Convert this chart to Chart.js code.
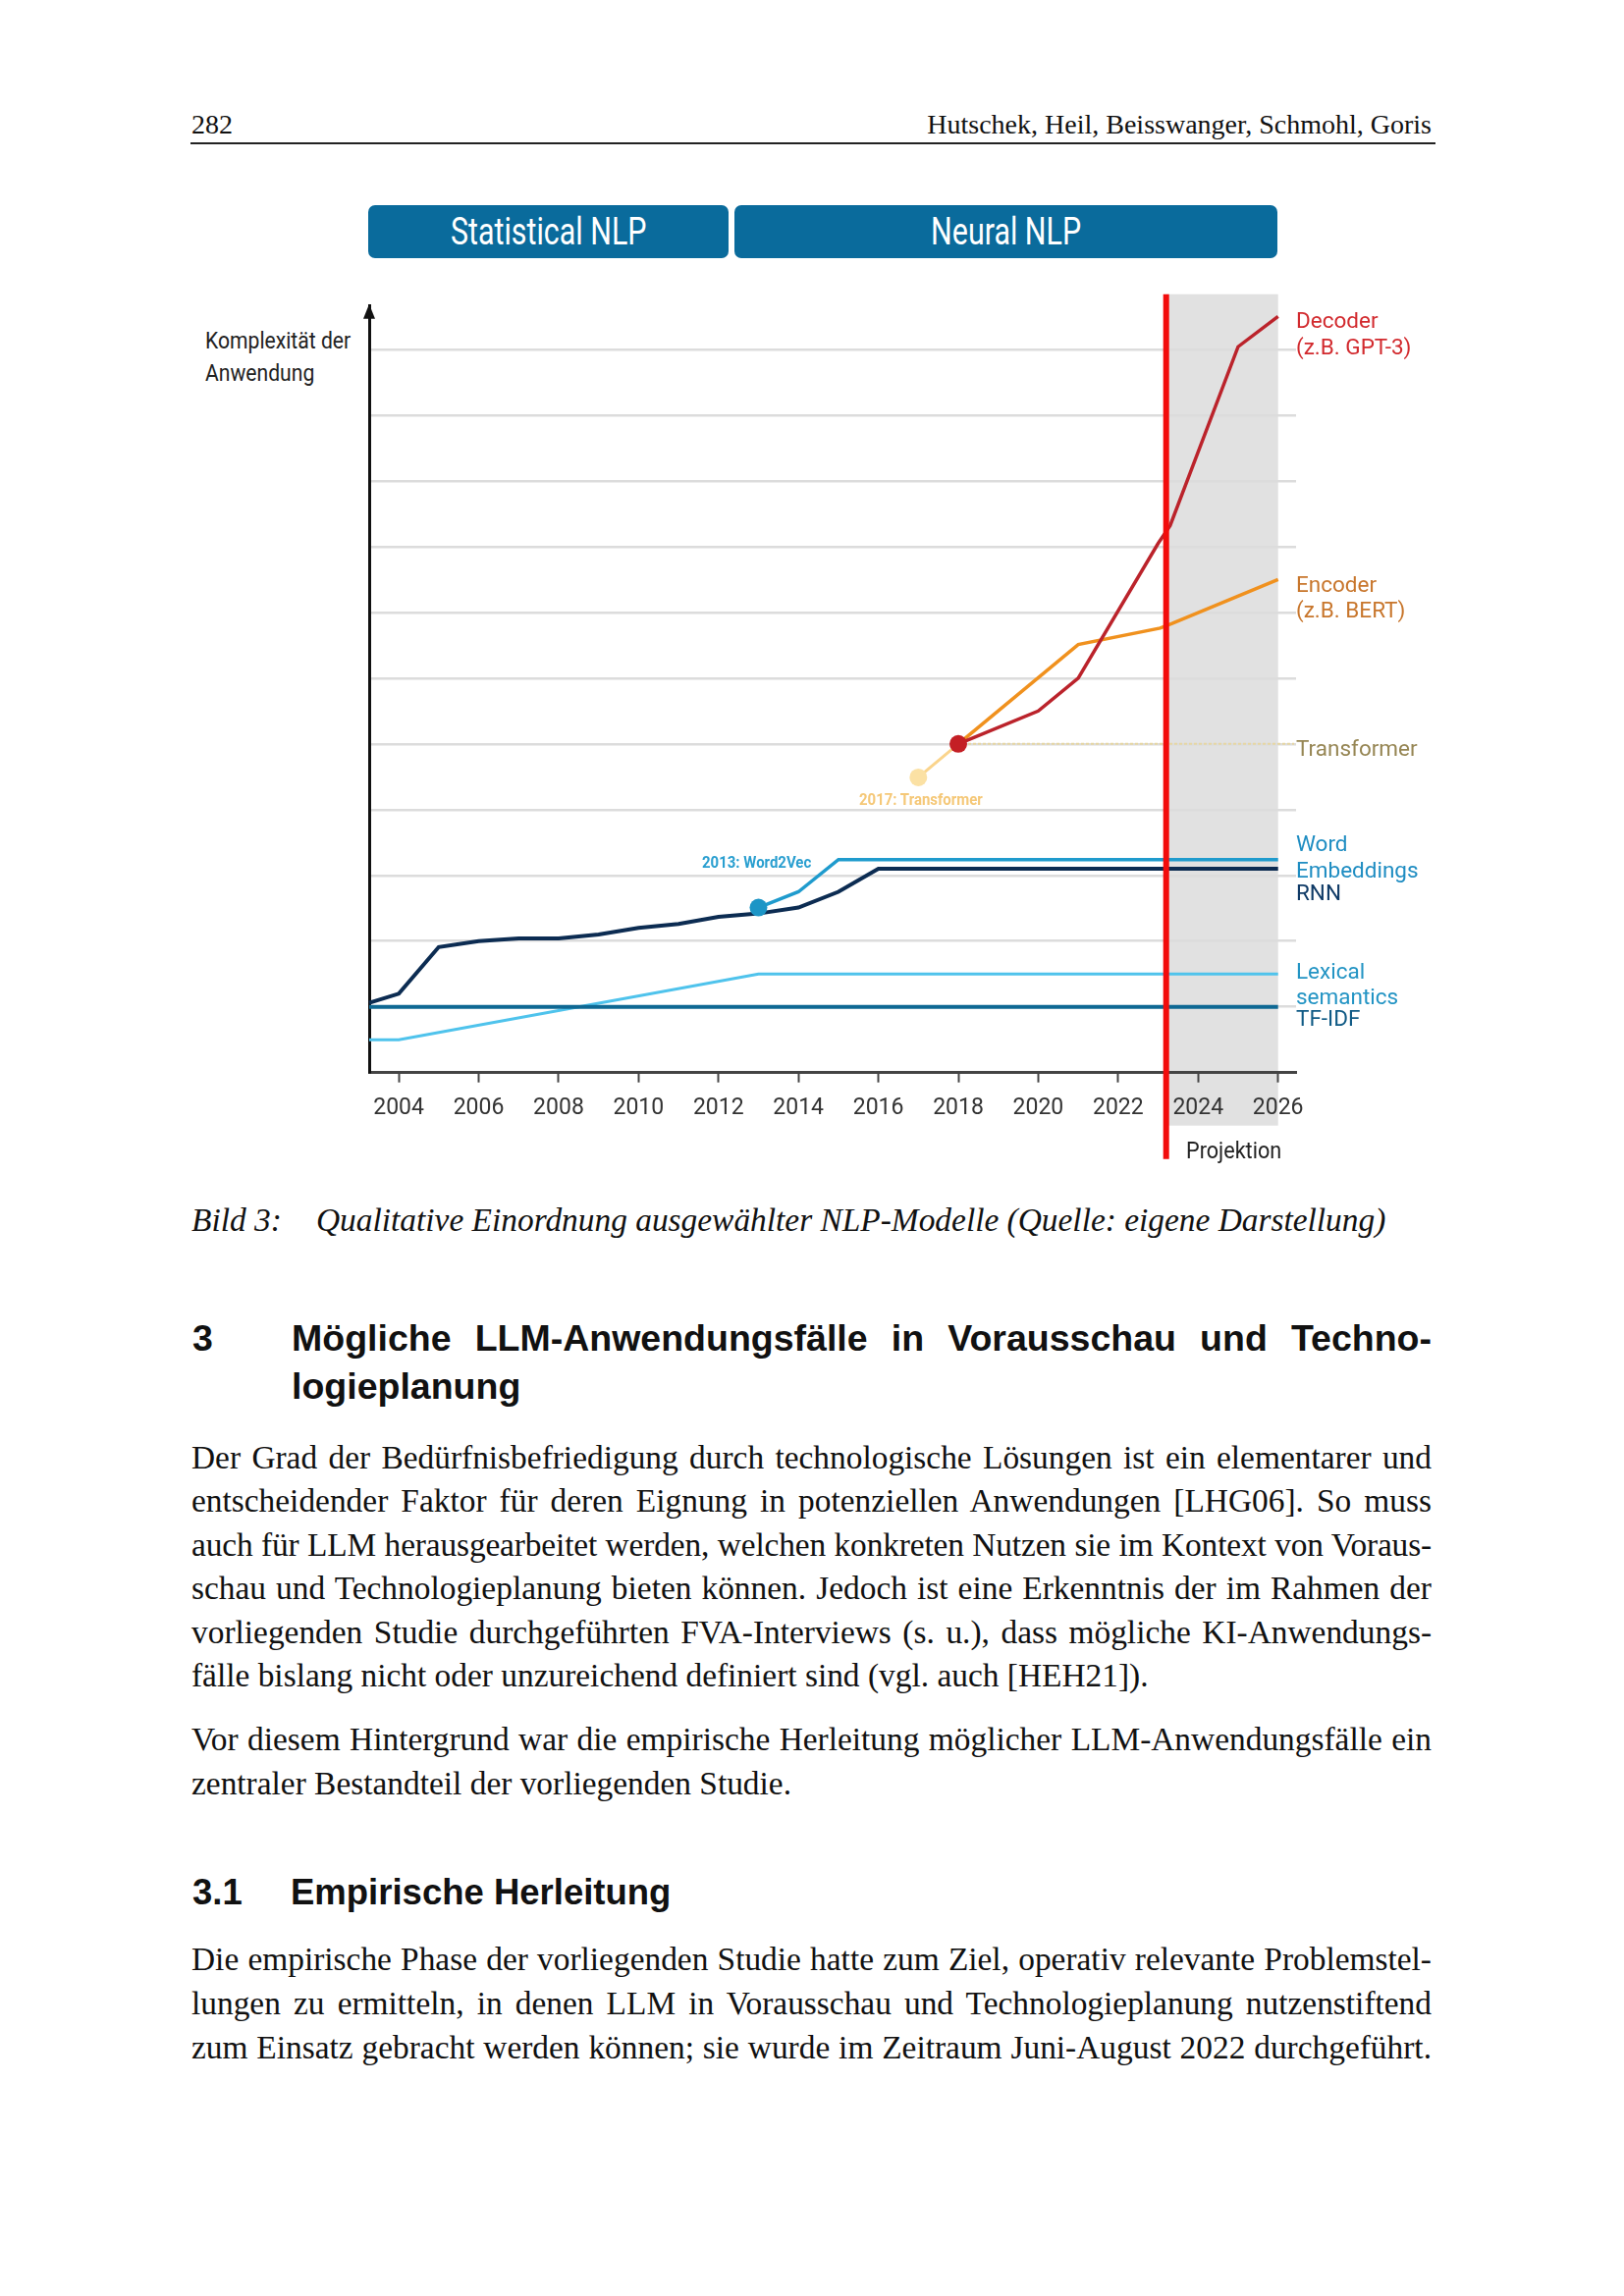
<!DOCTYPE html>
<html lang="de">
<head>
<meta charset="utf-8">
<title>Bild 3 – Qualitative Einordnung ausgewählter NLP-Modelle</title>
<script src="https://cdn.jsdelivr.net/npm/chart.js@4.4.1/dist/chart.umd.min.js"></script>
<style>
  html, body { margin: 0; padding: 0; background: #fff; }
  #page { position: relative; width: 1654px; height: 2339px; overflow: hidden; background: #fff; }
  .t { position: absolute; white-space: nowrap; line-height: 1; transform: translateY(-50%); }
  .serif { font-family: "Liberation Serif", "Times New Roman", serif; color: #111; }
  .sans { font-family: "Liberation Sans", Arial, sans-serif; color: #111; }
  .narrow { font-family: Roboto, sans-serif; transform-origin: left center; }
  .lbl { font-family: Roboto, sans-serif; font-size: 22.5px; }
  .body { font-size: 33.4px; }
  .j { text-align: justify; text-align-last: justify; }
  .tight { letter-spacing: -0.14px; }
  .banner { position: absolute; top: 209px; height: 54px; background: #0a6b9c; border-radius: 7px;
            display: flex; align-items: center; justify-content: center; }
  .banner span { color: #fff; font-family: Roboto, sans-serif; font-size: 38px; display: inline-block;
                 transform: scaleX(0.8); white-space: nowrap; }
  #chartBox { position: absolute; left: 190px; top: 290px; width: 1300px; height: 910px; }
</style>
</head>
<body>
<div id="page">
  <!-- Kopfzeile -->
  <div class="t serif" style="left:195px; top:127px; font-size:28px;">282</div>
  <div class="t serif" style="right:196px; top:127px; font-size:28px;">Hutschek, Heil, Beisswanger, Schmohl, Goris</div>
  <div style="position:absolute; left:194px; top:145px; width:1268px; height:2px; background:#222;"></div>

  <!-- Grafik -->
  <div class="banner" style="left:375px; width:367px;"><span>Statistical NLP</span></div>
  <div class="banner" style="left:748px; width:553px;"><span>Neural NLP</span></div>

  <div class="t narrow" style="left:209px; top:347px; font-size:24px; color:#222; transform:translateY(-50%) scaleX(0.88);">Komplexität der</div>
  <div class="t narrow" style="left:209px; top:380px; font-size:24px; color:#222; transform:translateY(-50%) scaleX(0.88);">Anwendung</div>

  <div id="chartBox"><canvas id="nlpChart"></canvas></div>

  <div class="t narrow" style="left:715px; top:878px; font-size:17px; font-weight:bold; color:#2a9fd0; transform:translateY(-50%) scaleX(0.88);">2013: Word2Vec</div>
  <div class="t narrow" style="left:875px; top:814px; font-size:17px; font-weight:bold; color:#f5c878; transform:translateY(-50%) scaleX(0.88);">2017: Transformer</div>

  <div class="t lbl" style="left:1320px; top:326px; color:#d22a2e;">Decoder</div>
  <div class="t lbl" style="left:1320px; top:353px; color:#d22a2e;">(z.B. GPT-3)</div>
  <div class="t lbl" style="left:1320px; top:595px; color:#c8762c;">Encoder</div>
  <div class="t lbl" style="left:1320px; top:621px; color:#c8762c;">(z.B. BERT)</div>
  <div class="t lbl" style="left:1320px; top:762px; color:#968654;">Transformer</div>
  <div class="t lbl" style="left:1320px; top:859px; color:#1f8dc2;">Word</div>
  <div class="t lbl" style="left:1320px; top:886px; color:#1f8dc2;">Embeddings</div>
  <div class="t lbl" style="left:1320px; top:909px; color:#0f3a66;">RNN</div>
  <div class="t lbl" style="left:1320px; top:989px; color:#2394c4;">Lexical</div>
  <div class="t lbl" style="left:1320px; top:1015px; color:#2394c4;">semantics</div>
  <div class="t lbl" style="left:1320px; top:1037px; color:#0f5a85;">TF-IDF</div>

  <div class="t narrow" style="left:1208px; top:1172px; font-size:24px; color:#222; transform:translateY(-50%) scaleX(0.9);">Projektion</div>

  <!-- Bildunterschrift -->
  <div class="t serif body" style="left:195px; top:1243px; font-style:italic;">Bild 3:</div>
  <div class="t serif body" style="left:322px; top:1243px; font-style:italic;">Qualitative Einordnung ausgewählter NLP-Modelle (Quelle: eigene Darstellung)</div>

  <!-- Abschnitt 3 -->
  <div class="t sans" style="left:196px; top:1364px; font-size:37.5px; font-weight:bold;">3</div>
  <div class="t sans j" style="left:297px; width:1161px; top:1364px; font-size:37.5px; font-weight:bold;">Mögliche LLM-Anwendungsfälle in Vorausschau und Techno-</div>
  <div class="t sans" style="left:297px; top:1413px; font-size:37.5px; font-weight:bold;">logieplanung</div>

  <div class="t serif body j" style="left:195px; width:1263px; top:1485px;">Der Grad der Bedürfnisbefriedigung durch technologische Lösungen ist ein elementarer und</div>
  <div class="t serif body j" style="left:195px; width:1263px; top:1529px;">entscheidender Faktor für deren Eignung in potenziellen Anwendungen [LHG06]. So muss</div>
  <div class="t serif body j tight" style="left:195px; width:1263px; top:1574px;">auch für LLM herausgearbeitet werden, welchen konkreten Nutzen sie im Kontext von Voraus-</div>
  <div class="t serif body j" style="left:195px; width:1263px; top:1618px;">schau und Technologieplanung bieten können. Jedoch ist eine Erkenntnis der im Rahmen der</div>
  <div class="t serif body j" style="left:195px; width:1263px; top:1663px;">vorliegenden Studie durchgeführten FVA-Interviews (s. u.), dass mögliche KI-Anwendungs-</div>
  <div class="t serif body" style="left:195px; top:1707px;">fälle bislang nicht oder unzureichend definiert sind (vgl. auch [HEH21]).</div>

  <div class="t serif body j" style="left:195px; width:1263px; top:1772px;">Vor diesem Hintergrund war die empirische Herleitung möglicher LLM-Anwendungsfälle ein</div>
  <div class="t serif body" style="left:195px; top:1817px;">zentraler Bestandteil der vorliegenden Studie.</div>

  <div class="t sans" style="left:196px; top:1928px; font-size:36.5px; font-weight:bold;">3.1</div>
  <div class="t sans" style="left:296px; top:1928px; font-size:36.5px; font-weight:bold;">Empirische Herleitung</div>

  <div class="t serif body j" style="left:195px; width:1263px; top:1996px;">Die empirische Phase der vorliegenden Studie hatte zum Ziel, operativ relevante Problemstel-</div>
  <div class="t serif body j" style="left:195px; width:1263px; top:2041px;">lungen zu ermitteln, in denen LLM in Vorausschau und Technologieplanung nutzenstiftend</div>
  <div class="t serif body j" style="left:195px; width:1263px; top:2086px;">zum Einsatz gebracht werden können; sie wurde im Zeitraum Juni-August 2022 durchgeführt.</div>
</div>

<script>
// Achsen
const tickYears = [2004, 2006, 2008, 2010, 2012, 2014, 2016, 2018, 2020, 2022, 2024, 2026];
const gridValues = [1, 2, 3, 4, 5, 6, 7, 8, 9, 10, 11];
const axisStartYear = 2003.26;
const axisEndYear = 2026.45;
const axisTopValue = 11.66;
const projectionStart = 2023.2;
const projectionEnd = 2026.0;

// Reihen (Jahr, qualitative Komplexität)
const tfidfYears = [2003.26, 2026];
const tfidfValues = [1.0, 1.0];
const lexicalYears = [2003.26, 2004, 2013, 2026];
const lexicalValues = [0.5, 0.5, 1.5, 1.5];
const rnnYears = [2003.26, 2004, 2005, 2006, 2007, 2008, 2009, 2010, 2011, 2012, 2013, 2014, 2015, 2016, 2026];
const rnnValues = [1.06, 1.2, 1.91, 2.0, 2.04, 2.04, 2.1, 2.2, 2.26, 2.37, 2.42, 2.51, 2.75, 3.1, 3.1];
const wordEmbYears = [2013, 2014, 2015, 2026];
const wordEmbValues = [2.51, 2.75, 3.24, 3.24];
const transformerYears = [2017, 2018];
const transformerValues = [4.49, 5.0];
const transformerLevelYears = [2018, 2026.4];
const transformerLevelValues = [5.0, 5.0];
const encoderYears = [2018, 2021, 2023.05, 2023.35, 2026];
const encoderValues = [5.0, 6.51, 6.76, 6.83, 7.5];
const decoderYears = [2018, 2020, 2021, 2023, 2023.3, 2025, 2026];
const decoderValues = [5.0, 5.5, 6.0, 8.05, 8.32, 11.04, 11.5];

// Meilensteine: Word2Vec, Transformer (2017), Transformer-Start
const milestoneYears = [2013, 2017, 2018];
const milestoneValues = [2.51, 4.49, 5.0];
const milestoneColors = ['#1c95c6', '#fbe1a4', '#c41f25'];

const toPoints = (xs, ys) => xs.map((x, i) => ({ x, y: ys[i] }));

const lineSet = (label, xs, ys, color, width, order, extra = {}) => ({
    label,
    data: toPoints(xs, ys),
    borderColor: color,
    borderWidth: width,
    pointRadius: 0,
    tension: 0,
    clip: false,
    order,
    ...extra,
});

const projectionPlugin = {
    id: 'projection',
    beforeDraw(chart) {
        const { ctx, scales } = chart;
        const x0 = scales.x.getPixelForValue(projectionStart);
        const x1 = scales.x.getPixelForValue(projectionEnd);
        const top = chart.chartArea.top - 12;
        const bottom = chart.chartArea.bottom + 54;
        ctx.save();
        ctx.fillStyle = '#e1e1e1';
        ctx.fillRect(x0, top, x1 - x0, bottom - top);
        ctx.restore();
    },
    afterDatasetsDraw(chart) {
        const { ctx, scales } = chart;
        const x = scales.x.getPixelForValue(projectionStart);
        ctx.save();
        ctx.strokeStyle = '#f20c0c';
        ctx.lineWidth = 6;
        ctx.beginPath();
        ctx.moveTo(x, chart.chartArea.top - 12);
        ctx.lineTo(x, chart.chartArea.bottom + 88);
        ctx.stroke();
        ctx.restore();
    },
    afterDraw(chart) {
        // Pfeilspitze der y-Achse
        const { ctx, chartArea } = chart;
        ctx.save();
        ctx.fillStyle = '#111';
        ctx.beginPath();
        ctx.moveTo(chartArea.left, chartArea.top - 2);
        ctx.lineTo(chartArea.left - 6, chartArea.top + 13);
        ctx.lineTo(chartArea.left + 6, chartArea.top + 13);
        ctx.closePath();
        ctx.fill();
        ctx.restore();
    },
};

document.addEventListener('DOMContentLoaded', () => {
    Chart.defaults.font.family = 'Roboto, sans-serif';

    new Chart(document.getElementById('nlpChart').getContext('2d'), {
        type: 'line',
        data: {
            datasets: [
                {
                    label: 'Meilensteine',
                    data: toPoints(milestoneYears, milestoneValues),
                    showLine: false,
                    pointRadius: 9,
                    pointBorderWidth: 0,
                    pointBackgroundColor: milestoneColors,
                    clip: false,
                    order: 0,
                },
                lineSet('Decoder', decoderYears, decoderValues, '#bb232b', 3.5, 1),
                lineSet('Encoder', encoderYears, encoderValues, '#f0911e', 3.5, 2),
                lineSet('Transformer', transformerYears, transformerValues, '#fad48c', 3, 3),
                lineSet('Transformer-Niveau', transformerLevelYears, transformerLevelValues, '#e6d6a2', 2, 4, { borderDash: [3, 2] }),
                lineSet('Word Embeddings', wordEmbYears, wordEmbValues, '#1f9bcd', 3.5, 5),
                lineSet('RNN', rnnYears, rnnValues, '#0c2c52', 4, 6),
                lineSet('TF-IDF', tfidfYears, tfidfValues, '#0e6893', 4, 7),
                lineSet('Lexical semantics', lexicalYears, lexicalValues, '#4fc3ec', 3, 8),
            ],
        },
        options: {
            responsive: true,
            maintainAspectRatio: false,
            animation: false,
            events: [],
            layout: {
                padding: { left: 0, top: 21.7, right: 170, bottom: 0 },
            },
            plugins: {
                legend: { display: false },
                tooltip: { enabled: false },
            },
            scales: {
                x: {
                    type: 'linear',
                    min: axisStartYear,
                    max: axisEndYear,
                    afterBuildTicks(scale) {
                        scale.ticks = tickYears.map((value) => ({ value }));
                    },
                    afterFit(scale) {
                        scale.height = 107.3;
                    },
                    ticks: {
                        autoSkip: false,
                        maxRotation: 0,
                        padding: 13,
                        color: '#333',
                        font: { size: 23 },
                        callback(value) {
                            return String(value);
                        },
                    },
                    grid: {
                        drawOnChartArea: false,
                        drawTicks: true,
                        tickLength: 10,
                        tickWidth: 2,
                        tickColor: '#444',
                    },
                    border: { color: '#444', width: 3 },
                },
                y: {
                    min: 0,
                    max: axisTopValue,
                    afterBuildTicks(scale) {
                        scale.ticks = gridValues.map((value) => ({ value }));
                    },
                    afterFit(scale) {
                        scale.width = 186;
                    },
                    ticks: { display: false },
                    grid: {
                        color: '#dcdcdc',
                        lineWidth: 2.5,
                        drawTicks: false,
                    },
                    border: { color: '#111', width: 3 },
                },
            },
        },
        plugins: [projectionPlugin],
    });
});
</script>
</body>
</html>
